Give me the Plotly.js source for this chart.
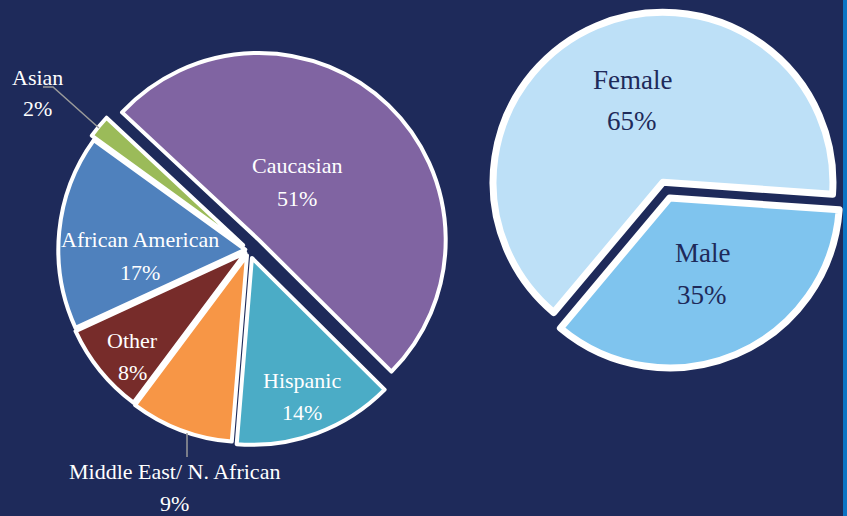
<!DOCTYPE html>
<html>
<head>
<meta charset="utf-8">
<script src="https://cdn.plot.ly/plotly-3.0.1.min.js"></script>
<style>
  html, body { margin: 0; padding: 0; background: #1E2A5A; }
  #chart { width: 847px; height: 516px; }
</style>
</head>
<body>
<div id="chart"></div>
<script>
// ---- Data ----
const raceLabels = ['Caucasian', 'Hispanic', 'Middle East/ N. African', 'Other', 'African American', 'Asian'];
const raceValues = [51, 14, 9, 8, 17, 2];
const raceColors = ['#8064A2', '#4BACC6', '#F79646', '#772C2A', '#4F81BD', '#9BBB59'];

const genderLabels = ['Female', 'Male'];
const genderValues = [65, 35];
const genderColors = ['#BDE0F7', '#7FC4EE'];

// ---- Layout helpers (pixel -> paper) ----
const W = 847, H = 516;
const px = x => x / W;
const py = y => 1 - y / H;

// label positions (pixel centres) for each slice: [x, yName, yValue]
const raceLabelPos = [
  [297, 165, 198],
  [302, 380, 412],
  [174, 471, 503],
  [132, 340, 372],
  [140, 240, 272],
  [37, 77, 108]
];
const genderLabelPos = [
  [632, 80, 121],
  [702, 253, 295]
];

const serif = 'Liberation Serif, Times New Roman, serif';

const annotations = [];
raceLabels.forEach((lab, i) => {
  const p = raceLabelPos[i];
  annotations.push({x: px(p[0]), y: py(p[1]), xref: 'paper', yref: 'paper', text: lab,
    showarrow: false, xanchor: 'center', yanchor: 'middle', font: {family: serif, size: 22, color: '#FFFFFF'}});
  annotations.push({x: px(p[0]), y: py(p[2]), xref: 'paper', yref: 'paper', text: raceValues[i] + '%',
    showarrow: false, xanchor: 'center', yanchor: 'middle', font: {family: serif, size: 22, color: '#FFFFFF'}});
});
genderLabels.forEach((lab, i) => {
  const p = genderLabelPos[i];
  annotations.push({x: px(p[0]), y: py(p[1]), xref: 'paper', yref: 'paper', text: lab,
    showarrow: false, xanchor: 'center', yanchor: 'middle', font: {family: serif, size: 27, color: '#1E2A5A'}});
  annotations.push({x: px(p[0]), y: py(p[2]), xref: 'paper', yref: 'paper', text: genderValues[i] + '%',
    showarrow: false, xanchor: 'center', yanchor: 'middle', font: {family: serif, size: 27, color: '#1E2A5A'}});
});

const shapes = [
  // leader line Asian
  {type: 'path', xref: 'paper', yref: 'paper',
   path: `M ${px(43)} ${py(87)} L ${px(53)} ${py(87)} L ${px(99)} ${py(128)}`,
   line: {color: '#9A9A9A', width: 1.5}},
  // leader line Middle East
  {type: 'line', xref: 'paper', yref: 'paper', x0: px(187), y0: py(433), x1: px(187), y1: py(457),
   line: {color: '#9A9A9A', width: 1.5}},
  // right edge stripe
  {type: 'rect', xref: 'paper', yref: 'paper', x0: px(843), x1: 1, y0: 0, y1: 1,
   fillcolor: '#0B74C4', line: {width: 0}, layer: 'below'}
];

const traces = [
  {
    type: 'pie', labels: raceLabels, values: raceValues, sort: false,
    direction: 'clockwise', rotation: 313,
    pull: [0.075, 0.045, 0.03, 0.025, 0.02, 0.04],
    marker: {colors: raceColors, line: {color: '#FFFFFF', width: 4}},
    textinfo: 'none', hoverinfo: 'skip',
    domain: {x: [0.0567, 0.5313], y: [0.126, 0.905]}
  },
  {
    type: 'pie', labels: genderLabels, values: genderValues, sort: false,
    direction: 'clockwise', rotation: 220,
    pull: [0.03, 0.07],
    marker: {colors: genderColors, line: {color: '#FFFFFF', width: 7}},
    textinfo: 'none', hoverinfo: 'skip',
    domain: {x: [0.5704, 0.9998], y: [0.2851, 0.9901]}
  }
];

const layout = {
  width: W, height: H,
  margin: {l: 0, r: 0, t: 0, b: 0},
  paper_bgcolor: '#1E2A5A',
  plot_bgcolor: '#1E2A5A',
  showlegend: false,
  annotations: annotations,
  shapes: shapes
};

Plotly.newPlot('chart', traces, layout, {displayModeBar: false, staticPlot: true});
</script>
</body>
</html>
